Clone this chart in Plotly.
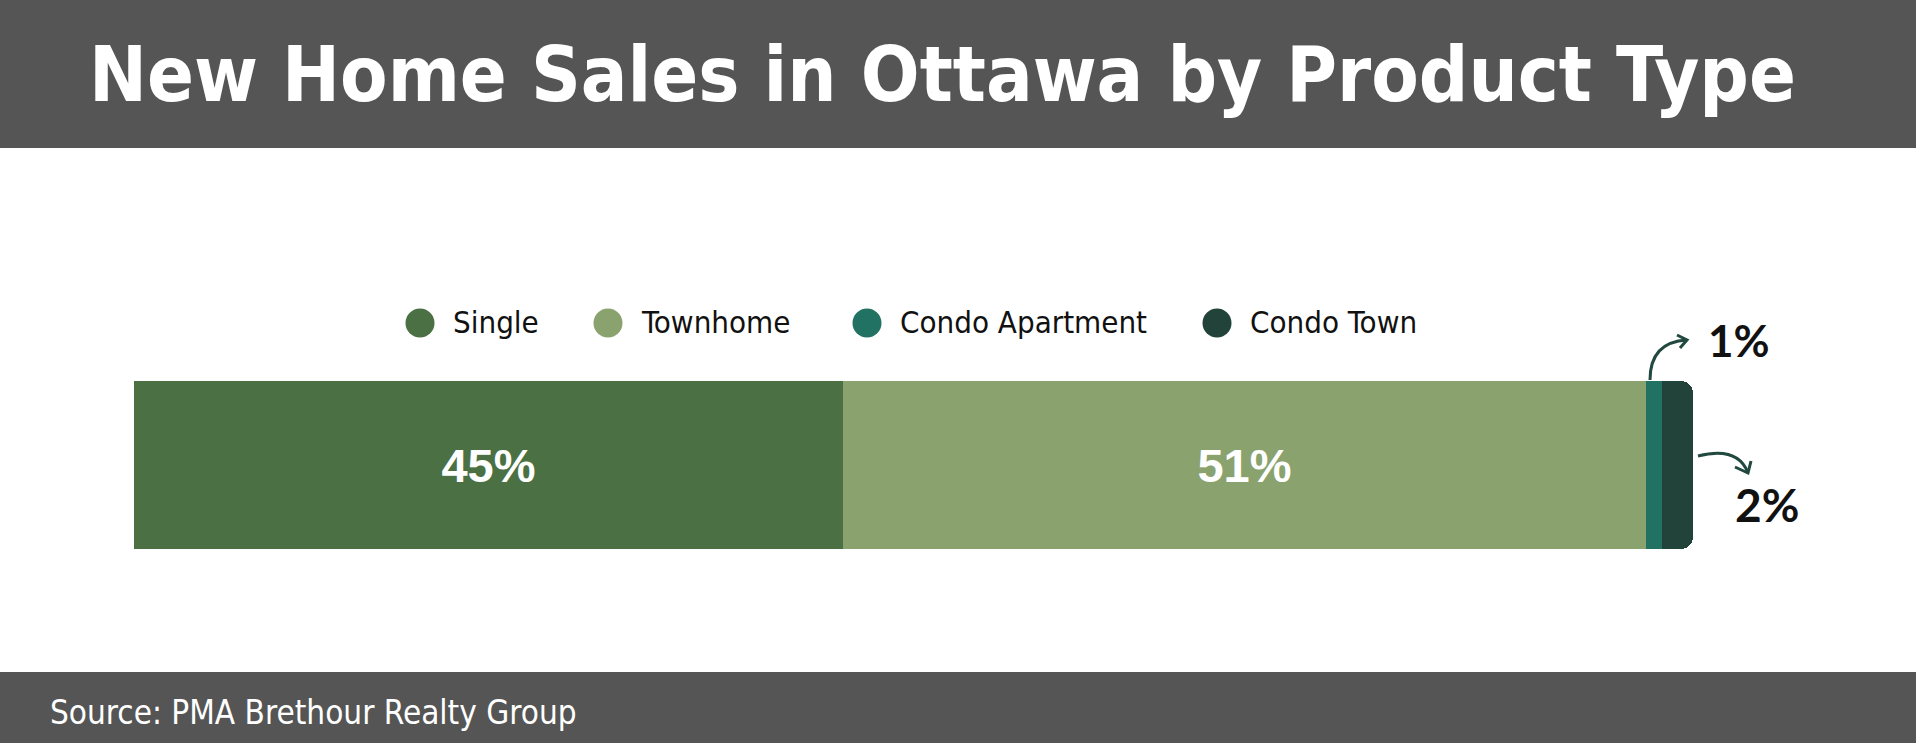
import plotly.graph_objects as go

# ---- data ----
categories = ["Single", "Townhome", "Condo Apartment", "Condo Town"]
shares = [45.5, 51.5, 1.0, 2.0]
share_labels = ["45%", "51%", "1%", "2%"]
colors = ["#4a7043", "#8aa26e", "#217262", "#21433a"]

title_text = "New Home Sales in Ottawa by Product Type"
source_text = "Source: PMA Brethour Realty Group"

W, H = 1916, 743


def px(x):
    return x / W


def py(y):
    return 1 - y / H


fig = go.Figure()
for i, (cat, val, lab, col) in enumerate(zip(categories, shares, share_labels, colors)):
    inside = i < 2
    fig.add_trace(go.Bar(
        x=[val], y=[0], orientation="h", width=1,
        name=cat, marker=dict(color=col, line=dict(width=0)),
        text=[lab] if inside else None,
        textposition="inside" if inside else "none",
        insidetextanchor="middle", textangle=0,
        textfont=dict(family="Liberation Sans", size=47, color="white", weight="bold"),
        showlegend=False, hoverinfo="skip",
    ))

shapes = [
    dict(type="rect", xref="paper", yref="paper", x0=0, x1=1, y0=py(148), y1=1,
         fillcolor="#555555", line=dict(width=0), layer="below"),
    dict(type="rect", xref="paper", yref="paper", x0=0, x1=1, y0=0, y1=py(672),
         fillcolor="#555555", line=dict(width=0), layer="below"),
]

# manual legend with large circles
legend_cx = [420, 608, 867, 1217]
legend_cy = 323
r = 14.5
annotations = []
for cat, col, cx in zip(categories, colors, legend_cx):
    shapes.append(dict(type="circle", xref="paper", yref="paper",
                       x0=px(cx - r), x1=px(cx + r), y0=py(legend_cy + r), y1=py(legend_cy - r),
                       fillcolor=col, line=dict(width=0)))
    annotations.append(dict(x=px(cx + 31), y=py(legend_cy - 1), xref="paper", yref="paper",
                            text=cat, showarrow=False, xanchor="left", yanchor="middle",
                            font=dict(family="DejaVu Sans Condensed", size=31, color="#111111")))

# curved arrows
arrow_col = "#22493f"
p1 = (f"M {px(1650)},{py(380)} Q {px(1650)},{py(342)} {px(1687)},{py(340)}")
h1 = (f"M {px(1677)},{py(335)} L {px(1687)},{py(340)} L {px(1680)},{py(348)}")
p2 = (f"M {px(1698)},{py(456)} Q {px(1738)},{py(446)} {px(1748)},{py(473)}")
h2 = (f"M {px(1735)},{py(467)} L {px(1748)},{py(473)} L {px(1751)},{py(461)}")
for p in (p1, h1, p2, h2):
    shapes.append(dict(type="path", path=p, xref="paper", yref="paper",
                       line=dict(color=arrow_col, width=3)))

annotations += [
    dict(x=px(942), y=py(74), xref="paper", yref="paper", text=title_text, showarrow=False,
         xanchor="center", yanchor="middle",
         font=dict(family="DejaVu Sans Condensed", size=77, color="white", weight="bold")),
    dict(x=px(48), y=py(712), xref="paper", yref="paper", text=source_text, showarrow=False,
         xanchor="left", yanchor="middle",
         font=dict(family="DejaVu Sans Condensed", size=33, color="white")),
    dict(x=px(1706), y=py(340), xref="paper", yref="paper", text=share_labels[2], showarrow=False,
         xanchor="left", yanchor="middle",
         font=dict(family="Lato", size=44, color="#111111", weight="bold")),
    dict(x=px(1733), y=py(505), xref="paper", yref="paper", text=share_labels[3], showarrow=False,
         xanchor="left", yanchor="middle",
         font=dict(family="Lato", size=46, color="#111111", weight="bold")),
]

fig.update_layout(
    width=W, height=H, margin=dict(l=0, r=0, t=0, b=0),
    paper_bgcolor="white", plot_bgcolor="white",
    barmode="stack", barcornerradius=12, bargap=0,
    xaxis=dict(visible=False, range=[0, 100], domain=[px(134), px(1693)], fixedrange=True),
    yaxis=dict(visible=False, range=[-0.5, 0.5], domain=[py(549), py(381)], fixedrange=True),
    shapes=shapes, annotations=annotations, showlegend=False,
)

fig.write_html("out.html")
